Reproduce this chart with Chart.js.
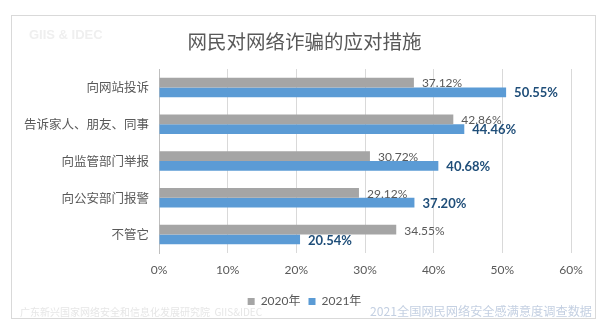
<!DOCTYPE html>
<html>
<head>
<meta charset="utf-8">
<script src="https://cdn.jsdelivr.net/npm/chart.js@4"></script>
<style>
    html, body { margin: 0; padding: 0; background: #fff; }
    #wrap { width: 609px; height: 331px; }
</style>
</head>
<body>
<div id="wrap"><canvas id="fraudChart" width="609" height="331"></canvas></div>
<script>
// categorie e percentuali per anno
const measures = ['向网站投诉', '告诉家人、朋友、同事', '向监管部门举报', '向公安部门报警', '不管它']
const values2020 = [37.12, 42.86, 30.72, 29.12, 34.55]
const values2021 = [50.55, 44.46, 40.68, 37.20, 20.54]
const xTicks = [0, 10, 20, 30, 40, 50, 60]

const FONT = "Lato, 'Noto Sans CJK SC', sans-serif"
const CJK = "'Noto Sans CJK SC', sans-serif"

// cornice, filigrane e fonti
const framePlugin = {
    id: 'frame',
    beforeDraw(chart) {
        const ctx = chart.ctx
        ctx.save()
        ctx.fillStyle = '#ffffff'
        ctx.fillRect(0, 0, chart.width, chart.height)
        ctx.strokeStyle = '#d9d9d9'
        ctx.lineWidth = 1
        ctx.strokeRect(11.5, 15.5, 584, 303)
        ctx.textBaseline = 'middle'
        ctx.fillStyle = '#efefef'
        ctx.font = "bold 13px 'Liberation Sans', sans-serif"
        ctx.textAlign = 'left'
        ctx.fillText('GIIS & IDEC', 29, 35)
        ctx.fillStyle = '#e6e6e6'
        ctx.font = '10px ' + CJK
        ctx.fillText('广东新兴国家网络安全和信息化发展研究院  GIIS&IDEC', 20, 312)
        ctx.fillStyle = '#c4d0e2'
        ctx.font = '12.2px ' + CJK
        ctx.textAlign = 'right'
        ctx.fillText('2021全国网民网络安全感满意度调查数据', 592, 311)
        ctx.restore()
    }
}

// etichette con i valori a destra delle barre
const valueLabels = {
    id: 'valueLabels',
    afterDatasetsDraw(chart) {
        const ctx = chart.ctx
        ctx.save()
        ctx.textAlign = 'left'
        ctx.textBaseline = 'middle'
        chart.data.datasets.forEach((ds, i) => {
            const meta = chart.getDatasetMeta(i)
            ctx.font = i === 1 ? 'bold 13px ' + FONT : '12px ' + FONT
            ctx.fillStyle = i === 1 ? '#1f4e79' : '#595959'
            meta.data.forEach((bar, j) => {
                ctx.fillText(ds.data[j].toFixed(2) + '%', bar.x + 8, bar.y + 1)
            })
        })
        ctx.restore()
    }
}

const fraudData = {
    labels: measures,
    datasets: [{
        label: '2020年',
        data: values2020,
        backgroundColor: '#a5a5a5',
        categoryPercentage: 0.53,
        barPercentage: 1
    }, {
        label: '2021年',
        data: values2021,
        backgroundColor: '#5b9bd5',
        categoryPercentage: 0.53,
        barPercentage: 1
    }]
}

const fraudConfig = {
    type: 'bar',
    data: fraudData,
    plugins: [framePlugin, valueLabels],
    options: {
        indexAxis: 'y',
        responsive: false,
        animation: false,
        layout: { padding: { left: 0, right: 0, top: 0, bottom: 13.6 } },
        scales: {
            x: {
                min: 0,
                max: 60,
                afterBuildTicks(axis) {
                    axis.ticks = xTicks.map(v => ({ value: v }))
                },
                grid: { color: '#d9d9d9', drawTicks: false, tickLength: 0 },
                border: { display: false },
                ticks: {
                    padding: 10,
                    color: '#595959',
                    font: { family: FONT, size: 12 },
                    callback: v => v + '%'
                }
            },
            y: {
                afterFit(axis) { axis.width = 159 },
                grid: { display: false, drawTicks: false },
                border: { display: true, color: '#bfbfbf' },
                ticks: {
                    padding: 10,
                    color: '#595959',
                    font: { family: CJK, size: 12.5 }
                }
            },
            // margine vuoto a destra, così titolo e legenda restano centrati
            gutter: {
                type: 'linear',
                position: 'right',
                afterFit(axis) { axis.width = 38 },
                grid: { display: false, drawTicks: false },
                border: { display: false },
                ticks: { display: false }
            }
        },
        plugins: {
            title: {
                display: true,
                text: '网民对网络诈骗的应对措施',
                color: '#595959',
                font: { family: CJK, size: 19.5, weight: 'normal' },
                padding: { top: 30, bottom: 15.6 }
            },
            legend: {
                position: 'bottom',
                labels: {
                    boxWidth: 7,
                    boxHeight: 7,
                    padding: 8,
                    color: '#595959',
                    font: { family: FONT, size: 12 }
                }
            },
            tooltip: { enabled: false }
        }
    }
}

var fraudChart = new Chart(document.getElementById('fraudChart'), fraudConfig)
</script>
</body>
</html>
